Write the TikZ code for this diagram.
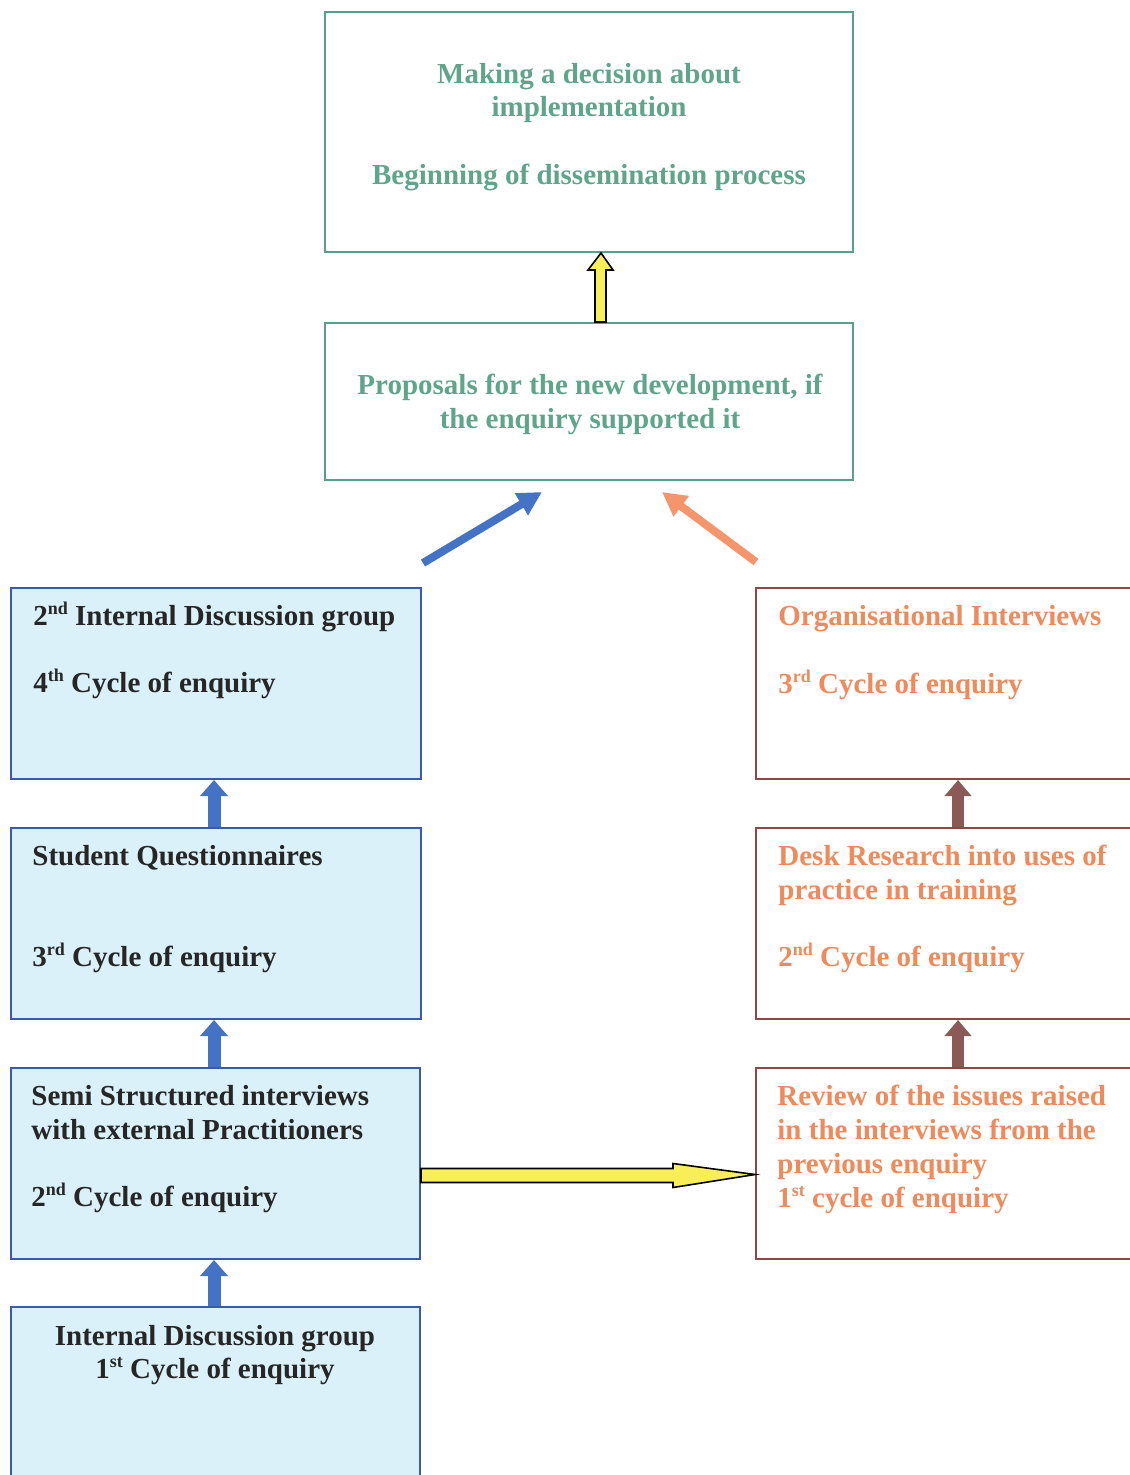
\documentclass[tikz,border=0pt]{standalone}
\usepackage{fontspec}
\setmainfont{Liberation Serif}
\usetikzlibrary{fit,calc,arrows.meta}
\definecolor{tealline}{HTML}{5A9E8E}
\definecolor{tealtext}{HTML}{5FA58C}
\definecolor{blueline}{HTML}{3A5BA8}
\definecolor{bluefill}{HTML}{DAF1FA}
\definecolor{brownline}{HTML}{8A4A44}
\definecolor{orangetext}{HTML}{EE8A5C}
\definecolor{arrowblue}{HTML}{4472C4}
\definecolor{arrowbrown}{HTML}{8C5A56}
\definecolor{arroworange}{HTML}{F5956C}
\definecolor{arrowyellow}{HTML}{F8EE58}
\tikzset{
  tealbox/.style={draw=tealline, line width=1pt, inner sep=0pt},
  bluebox/.style={draw=blueline, fill=bluefill, line width=1pt, inner sep=0pt},
  brownbox/.style={draw=brownline, fill=white, line width=1pt, inner sep=0pt},
  txt/.style={inner sep=0pt, font=\fontsize{14.5}{17}\selectfont\bfseries},
  ltxt/.style={txt, anchor=base west},
  ctxt/.style={txt, anchor=base},
  greentxt/.style={ctxt, text=tealtext},
  bluetxt/.style={ltxt, text=black!85},
  orangetxt/.style={ltxt, text=orangetext},
  blueup/.style={line width=6.5pt, draw=arrowblue, -{Triangle[length=8pt,width=13.5pt]}},
  brownup/.style={line width=6pt, draw=arrowbrown, -{Triangle[length=8pt,width=13pt]}},
  yellowarrow/.style={fill=arrowyellow, draw=black, line width=0.8pt, line join=miter},
}
\newcommand{\sps}[1]{\raisebox{5.5pt}{\fontsize{9}{9}\selectfont #1}}
\begin{document}
\begin{tikzpicture}[x=0.5pt,y=-0.5pt]
\useasboundingbox[fill=white] (0,0) rectangle (1129,1475);

% top boxes
\node[tealbox, fit={(325,12) (853,252)}] (decide) {};
\node[tealbox, fit={(325,323) (853,480)}] (propose) {};
\node[greentxt] (d1) at (589,84) {Making a decision about};
\node[greentxt] (d2) at (589,117) {implementation};
\node[greentxt] (d3) at (589,185) {Beginning of dissemination process};
\node[greentxt] (p1) at (590,395) {Proposals for the new development, if};
\node[greentxt] (p2) at (590,429) {the enquiry supported it};

% left column
\node[bluebox, fit={(11,588) (421,779)}] (L4) {};
\node[bluebox, fit={(11,828) (421,1019)}] (L3) {};
\node[bluebox, fit={(11,1068) (420,1259)}] (L2) {};
\node[bluebox, fit={(11,1307) (420,1485)}] (L1) {};

\node[bluetxt] (l4a) at (33,625) {2\sps{nd} Internal Discussion group};
\node[bluetxt] (l4b) at (33,692) {4\sps{th} Cycle of enquiry};
\node[bluetxt] (l3a) at (32,865) {Student Questionnaires};
\node[bluetxt] (l3b) at (32,966) {3\sps{rd} Cycle of enquiry};
\node[bluetxt] (l2a) at (31,1105) {Semi Structured interviews};
\node[bluetxt] (l2b) at (31,1139) {with external Practitioners};
\node[bluetxt] (l2c) at (31,1206) {2\sps{nd} Cycle of enquiry};
\node[ctxt, text=black!85] (l1a) at (215,1345) {Internal Discussion group};
\node[ctxt, text=black!85] (l1b) at (215,1378) {1\sps{st} Cycle of enquiry};

% right column
\node[brownbox, fit={(756,588) (1135,779)}] (R3) {};
\node[brownbox, fit={(756,828) (1135,1019)}] (R2) {};
\node[brownbox, fit={(756,1068) (1135,1259)}] (R1) {};

\node[orangetxt] (r3a) at (778,625) {Organisational Interviews};
\node[orangetxt] (r3b) at (778,693) {3\sps{rd} Cycle of enquiry};
\node[orangetxt] (r2a) at (778,865) {Desk Research into uses of};
\node[orangetxt] (r2b) at (778,899) {practice in training};
\node[orangetxt] (r2c) at (778,966) {2\sps{nd} Cycle of enquiry};
\node[orangetxt] (r1a) at (777,1105) {Review of the issues raised};
\node[orangetxt] (r1b) at (777,1139) {in the interviews from the};
\node[orangetxt] (r1c) at (777,1173) {previous enquiry};
\node[orangetxt] (r1d) at (777,1207) {1\sps{st} cycle of enquiry};

% vertical connectors
\draw[blueup] ([xshift=102pt]L1.north west) -- ([xshift=102pt]L2.south west);
\draw[blueup] ([xshift=102pt]L2.north west) -- ([xshift=102pt]L3.south west);
\draw[blueup] ([xshift=102pt]L3.north west) -- ([xshift=102pt]L4.south west);
\draw[brownup] ([xshift=101.5pt]R1.north west) -- ([xshift=101.5pt]R2.south west);
\draw[brownup] ([xshift=101.5pt]R2.north west) -- ([xshift=101.5pt]R3.south west);

% yellow block arrow: proposals up to decision
\coordinate (ya) at ($(propose.north)+(12,0)$);
\coordinate (yb) at ($(decide.south)+(12,0)$);
\draw[yellowarrow] ($(ya)+(-6,0)$) -- ($(yb)+(-6,17)$) -- ($(yb)+(-13,17)$)
  -- (yb) -- ($(yb)+(12,17)$) -- ($(yb)+(5,17)$) -- ($(ya)+(5,0)$) -- cycle;

% yellow block arrow: left to right column
\coordinate (ha) at ($(L2.east)+(0,11)$);
\coordinate (hb) at ($(R1.west)+(0,11)$);
\draw[yellowarrow] ($(ha)+(0,-6)$) -- ($(hb)+(-82,-6)$) -- ($(hb)+(-82,-11)$)
  -- (hb) -- ($(hb)+(-82,13)$) -- ($(hb)+(-82,8)$) -- ($(ha)+(0,8)$) -- cycle;

% diagonal connectors into the proposals box
\coordinate (bt) at (423,563);
\coordinate (bh) at (542,492);
\coordinate (ot) at (756,562);
\coordinate (oh) at (662,492);
\draw[line width=4pt, arrowblue, -{Triangle[length=12pt,width=12pt]}] (bt) -- (bh);
\draw[line width=4pt, arroworange, -{Triangle[length=12pt,width=12pt]}] (ot) -- (oh);
\end{tikzpicture}
\end{document}
